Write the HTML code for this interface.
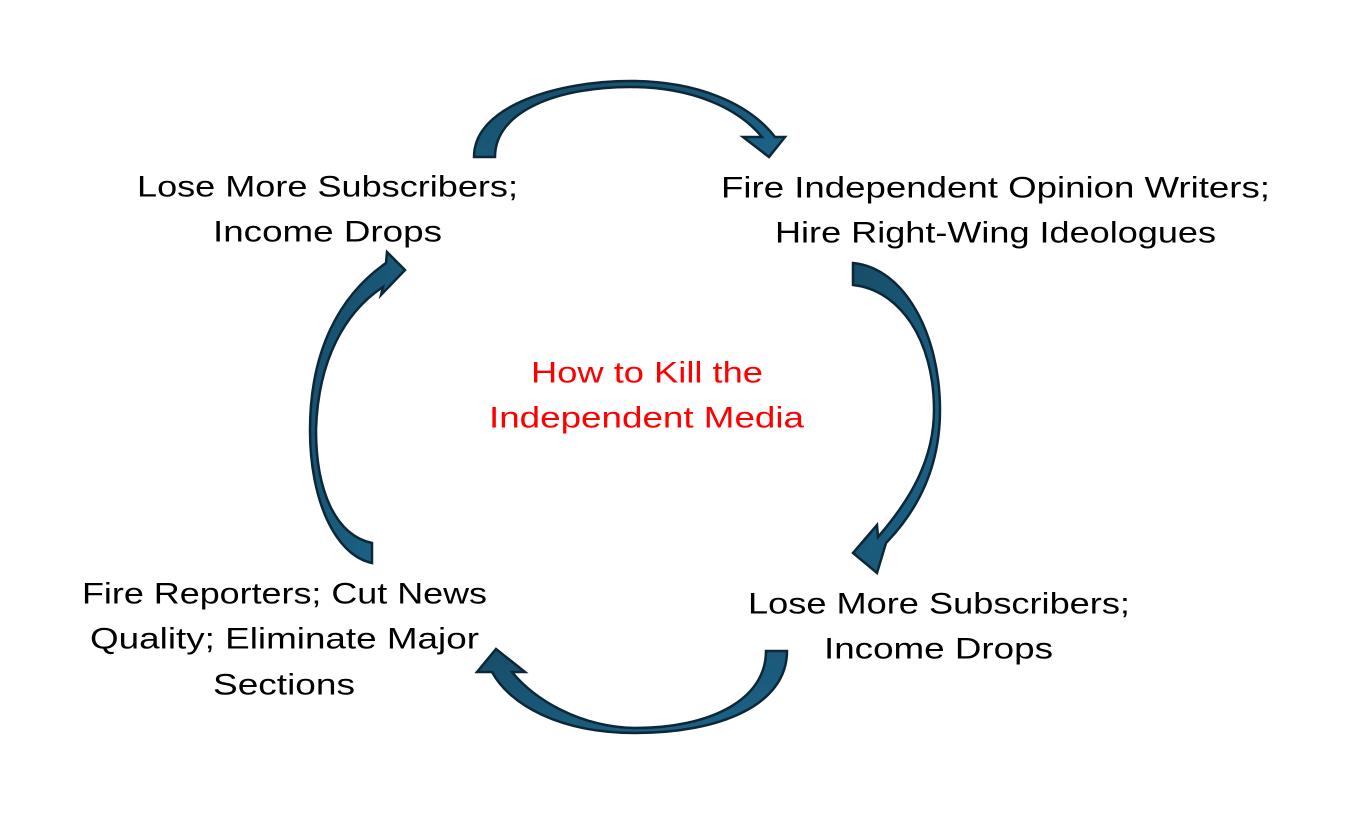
<!DOCTYPE html>
<html><head><meta charset="utf-8"><style>
html,body{margin:0;padding:0;background:#fff;}
svg{display:block;}
text{font-family:"Liberation Sans",sans-serif;font-size:30px;fill:#000;}
</style></head><body>
<svg width="1367" height="837" viewBox="0 0 1367 837" xmlns="http://www.w3.org/2000/svg">
<defs>
<linearGradient id="g" x1="0" y1="0" x2="1" y2="1">
<stop offset="0" stop-color="#174d68"/><stop offset="1" stop-color="#1c6489"/>
</linearGradient>
</defs>
<g fill="url(#g)" stroke="#0c2838" stroke-width="2.5" stroke-linejoin="miter">
<path d="M474,157 C474,105 560,81 630,81 C695,81 748,102 775,137 L785,137 L769,157 L743,137 L762,137 C738,108 692,87 630,87 C560,87 495,110 495,157 Z"/>
<path d="M853,263 C905,268 940,335 940,410 C940,470 916,512 886,543 L877,573 L853,553 L877,525 L878,537 C910,500 934,460 934,410 C934,340 900,290 853,285 Z"/>
<path d="M787,651 C787,705 720,733 635,733 C560,733 510,705 492,672 L477,672 L496,649 L525,672 L512,672 C535,700 580,727 635,728 C710,728 766,700 766,651 Z"/>
<path d="M372,563 C335,555 310,500 310,430 C310,350 340,295 386,263 L387,252 L405,270 L381,295 L383,287 C345,312 318,360 316,430 C316,490 335,535 372,543 Z"/>
</g>
<g dominant-baseline="central">
<text x="137" y="187" textLength="381" lengthAdjust="spacingAndGlyphs">Lose More Subscribers;</text>
<text x="213" y="232" textLength="229" lengthAdjust="spacingAndGlyphs">Income Drops</text>
<text x="721" y="188" textLength="549" lengthAdjust="spacingAndGlyphs">Fire Independent Opinion Writers;</text>
<text x="775" y="233" textLength="441" lengthAdjust="spacingAndGlyphs">Hire Right-Wing Ideologues</text>
<text x="748" y="604" textLength="382" lengthAdjust="spacingAndGlyphs">Lose More Subscribers;</text>
<text x="824" y="649" textLength="229" lengthAdjust="spacingAndGlyphs">Income Drops</text>
<text x="82" y="594" textLength="405" lengthAdjust="spacingAndGlyphs">Fire Reporters; Cut News</text>
<text x="90" y="639" textLength="389" lengthAdjust="spacingAndGlyphs">Quality; Eliminate Major</text>
<text x="213" y="685" textLength="142" lengthAdjust="spacingAndGlyphs">Sections</text>
<text x="531" y="373" textLength="232" lengthAdjust="spacingAndGlyphs" style="fill:#ff0000">How to Kill the</text>
<text x="489" y="418" textLength="315" lengthAdjust="spacingAndGlyphs" style="fill:#ff0000">Independent Media</text>
</g>
</svg>
</body></html>
